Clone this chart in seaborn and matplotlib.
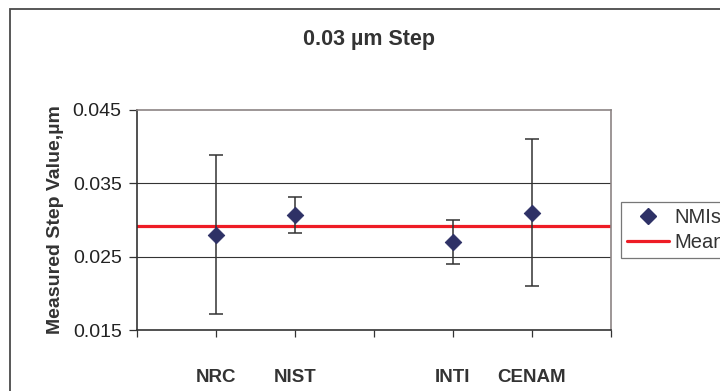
import numpy as np
import pandas as pd
import matplotlib
matplotlib.use("Agg")
import matplotlib.pyplot as plt
from matplotlib.patches import Rectangle
from matplotlib.lines import Line2D
import seaborn as sns

# data
categories = ['NRC', 'NIST', '', 'INTI', 'CENAM']
step_values = [0.0280, 0.0307, np.nan, 0.0270, 0.0310]
uncertainty = [0.0108, 0.0025, np.nan, 0.0030, 0.0100]
mean_value = 0.0292

y_ticks = [0.015, 0.025, 0.035, 0.045]

sns.set_theme(style="white")
plt.rcParams['font.family'] = ['Liberation Sans', 'DejaVu Sans']

df = pd.DataFrame({'lab': categories, 'value': step_values, 'err': uncertainty})
df['pos'] = np.arange(1, len(df) + 1)
pts = df.dropna()

fig = plt.figure(figsize=(7.2, 3.91), dpi=100)
ax = fig.add_axes([0.1903, 0.156, 0.6583, 0.5627])

# outer chart frame
fig.patches.append(Rectangle((10 / 720, -0.2), 1.2, 0.2 + 1 - 9 / 391,
                             transform=fig.transFigure, fill=False,
                             edgecolor='#4a4a4a', lw=1.3))

ax.errorbar(pts['pos'], pts['value'], yerr=pts['err'], fmt='none',
            ecolor='#333333', elinewidth=1.1, capsize=5, capthick=1.1, zorder=3)
sns.scatterplot(data=pts, x='pos', y='value', marker='D', s=70,
                color='#2e3166', edgecolor='#2e3166', ax=ax, zorder=4, legend=False)
ax.axhline(mean_value, color='#ee1c25', lw=2.3, zorder=2)

ax.set_xlim(0, len(categories) + 1)
ax.set_ylim(y_ticks[0], y_ticks[-1])
ax.set_yticks(y_ticks)
ax.set_yticklabels([f'{t:.3f}' for t in y_ticks], fontsize=14, color='#222222')
ax.set_xticks(np.arange(0, len(categories) + 2))
ax.set_xticklabels([''] + categories + [''], fontsize=13.5, fontweight='bold',
                   color='#333333')
ax.tick_params(axis='x', direction='out', length=5, width=0.9, color='#333333',
               pad=23, bottom=True)
ax.tick_params(axis='y', direction='out', length=6, width=0.9, color='#333333',
               pad=5, left=True)

ax.grid(False)
for t in y_ticks[1:-1]:
    ax.axhline(t, color='#333333', lw=0.8, zorder=1)

ax.spines['left'].set_color('#333333')
ax.spines['bottom'].set_color('#333333')
ax.spines['top'].set_color('#8c8484')
ax.spines['right'].set_color('#8c8484')
for s in ax.spines.values():
    s.set_linewidth(1.2)

ax.set_xlabel('')
ax.set_ylabel('Measured Step Value,\u00b5m', fontsize=14, fontweight='bold',
              labelpad=6, color='#333333')
fig.text(0.513, 0.898, '0.03 \u00b5m Step', ha='center', va='center',
         fontsize=15.5, fontweight='bold', color='#333333')

handles = [
    Line2D([], [], marker='D', color='#2e3166', linestyle='none', markersize=8),
    Line2D([], [], color='#ee1c25', lw=2.3),
]
leg = fig.legend(handles, ['NMIs', 'Mean'], loc='upper left',
                 bbox_to_anchor=(621 / 720, 1 - 202 / 391), fontsize=14.5,
                 frameon=True, fancybox=False, edgecolor='#555555',
                 handlelength=2.1, handletextpad=0.25, borderpad=0.3,
                 labelspacing=0.3, borderaxespad=0)
for t in leg.get_texts():
    t.set_color('#333333')
leg.get_frame().set_linewidth(0.9)

fig.savefig('out.png', dpi=100)
